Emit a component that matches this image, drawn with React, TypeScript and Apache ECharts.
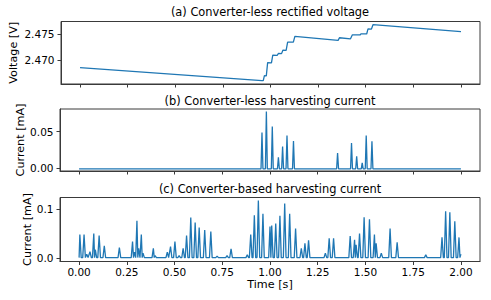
import React, { useEffect, useRef } from "react";
import * as echarts from "echarts";

// ---- data ----
const xTicks = [0, 0.25, 0.5, 0.75, 1.0, 1.25, 1.5, 1.75, 2.0];

const titles = [
  "(a) Converter-less rectified voltage",
  "(b) Converter-less harvesting current",
  "(c) Converter-based harvesting current",
];
const yNames = ["Voltage [V]", "Current [mA]", "Current [mA]"];

// (a) rectified voltage (time [s], voltage [V])
const voltT = [
  0, 0.955, 0.962, 0.968, 0.978, 0.985, 1.005, 1.012, 1.035, 1.042, 1.058, 1.065,
  1.082, 1.09, 1.12, 1.128, 1.355, 1.362, 1.42, 1.43, 1.47, 1.475, 1.505, 1.512,
  1.53, 1.538, 2.0,
];
const voltV = [
  2.46856, 2.46607, 2.46605, 2.467, 2.46698, 2.4695, 2.46947, 2.47094, 2.4709,
  2.47125, 2.47122, 2.47187, 2.47184, 2.47343, 2.4734, 2.4745, 2.47375, 2.47425,
  2.47405, 2.47481, 2.47478, 2.475, 2.47497, 2.47594, 2.4759, 2.47674, 2.47543,
];
const voltTicks = [2.47, 2.475];

// (b) converter-less current spikes (time [s], peak [mA])
const bSpikeT = [0.958, 0.981, 1.012, 1.044, 1.066, 1.089, 1.123, 1.354, 1.427, 1.454, 1.483, 1.504, 1.534];
const bSpikeV = [0.049, 0.0775, 0.057, 0.0153, 0.030, 0.045, 0.0375, 0.021, 0.0347, 0.0165, 0.0077, 0.045, 0.037];
const bBase = -0.0005;
const bTicks = [0, 0.05];

// (c) converter-based current spikes (time [s], peak [mA])
const cSpikeT = [
  0.004, 0.026, 0.04, 0.057, 0.077, 0.085, 0.105, 0.132, 0.211, 0.28, 0.29, 0.303,
  0.312, 0.326, 0.335, 0.389, 0.398, 0.462, 0.479, 0.502, 0.524, 0.545, 0.563,
  0.585, 0.608, 0.629, 0.658, 0.69, 0.723, 0.775, 0.796, 0.881, 0.899, 0.918,
  0.939, 0.963, 1.0, 1.009, 1.03, 1.052, 1.077, 1.103, 1.134, 1.164, 1.183, 1.202,
  1.29, 1.31, 1.333, 1.42, 1.443, 1.451, 1.469, 1.493, 1.521, 1.547, 1.556, 1.583,
  1.629, 1.666, 1.816, 1.901, 1.92, 1.942, 1.968, 1.99, 2.0,
];
const cSpikeV = [
  0.048, 0.048, 0.008, 0.013, 0.05, 0.017, 0.046, 0.025, 0.0215, 0.0335, 0.012,
  0.076, 0.02, 0.048, 0.01, 0.02, 0.005, 0.012, 0.0235, 0.0335, 0.005, 0.02, 0.046,
  0.0825, 0.072, 0.062, 0.057, 0.054, 0.004, 0.005, 0.019, 0.007, 0.048, 0.087,
  0.117, 0.09, 0.064, 0.066, 0.07, 0.086, 0.111, 0.09, 0.06, 0.02, 0.03, 0.036,
  0.01, 0.04, 0.04, 0.045, 0.037, 0.027, 0.05, 0.083, 0.079, 0.048, 0.03, 0.01,
  0.06, 0.032, 0.007, 0.042, 0.095, 0.093, 0.075, 0.042, 0.008,
];
const cBase = 0.001;
const cTicks = [0, 0.1];

const T_START = 0;
const T_END = 2.0;

function buildSpikes(ts: number[], vs: number[], hw: number, base: number) {
  const pts: number[][] = [[T_START, base]];
  for (let i = 0; i < ts.length; i++) {
    const t = ts[i];
    let left = t - hw;
    if (i > 0) left = Math.max(left, (ts[i - 1] + t) / 2);
    let right = t + hw;
    if (i < ts.length - 1) right = Math.min(right, (t + ts[i + 1]) / 2);
    left = Math.max(left, T_START);
    right = Math.min(right, T_END);
    if (left < t) pts.push([left, base]);
    pts.push([t, vs[i]]);
    if (right > t) pts.push([right, base]);
  }
  const last = pts[pts.length - 1];
  if (last[0] < T_END) pts.push([T_END, base]);
  return pts;
}

const FONT = "DejaVu Sans";
const FRAME = "#3a3a3a";
const LINE = "#1f77b4";

export default function App() {
  const ref = useRef<HTMLDivElement>(null);
  useEffect(() => {
    document.body.style.margin = "0";
    if (!ref.current) return;
    const chart = echarts.init(ref.current, undefined, { renderer: "svg" });

    const grids = [
      { left: 60, top: 21.5, width: 420, height: 62.5 },
      { left: 60, top: 109, width: 420, height: 62 },
      { left: 60, top: 197.5, width: 420, height: 64 },
    ];
    const yRanges = [
      { min: 2.46542, max: 2.47735, ticks: voltTicks, fmt: (v: number) => v.toFixed(3), gap: 42 },
      { min: -0.0035, max: 0.081, ticks: bTicks, fmt: (v: number) => v.toFixed(2), gap: 34 },
      { min: -0.0069, max: 0.123, ticks: cTicks, fmt: (v: number) => v.toFixed(1), gap: 27 },
    ];
    const titleTops = [6, 95, 183];

    const voltData = voltT.map((t, i) => [t, voltV[i]]);
    const bData = buildSpikes(bSpikeT, bSpikeV, 0.005, bBase);
    const cData = buildSpikes(cSpikeT, cSpikeV, 0.007, cBase);

    chart.setOption({
      animation: false,
      backgroundColor: "#fff",
      title: titles.map((t, i) => ({
        text: t,
        left: 270,
        top: titleTops[i],
        textAlign: "center",
        padding: 0,
        textStyle: { fontFamily: FONT, fontSize: 11.4, fontWeight: "normal", color: "#000" },
      })),
      grid: grids.map((g) => ({
        ...g,
        show: true,
        borderColor: FRAME,
        borderWidth: 1,
        backgroundColor: "transparent",
        containLabel: false,
      })),
      xAxis: grids.map((_, i) => ({
        gridIndex: i,
        type: "value",
        min: -0.1,
        max: 2.1,
        splitLine: { show: false },
        axisLine: { show: true, onZero: false, lineStyle: { color: FRAME, width: 1 } },
        axisTick: { show: true, customValues: xTicks, length: 3.5, lineStyle: { color: FRAME, width: 1 } },
        axisLabel: {
          show: i === 2,
          customValues: xTicks,
          formatter: (v: number) => v.toFixed(2),
          margin: 5,
          fontFamily: FONT,
          fontSize: 10.5,
          color: "#000",
        },
        name: i === 2 ? "Time [s]" : "",
        nameLocation: "middle",
        nameGap: 17,
        nameMoveOverlap: false,
        nameTextStyle: { fontFamily: FONT, fontSize: 11.2, color: "#000", verticalAlign: "top" },
      })),
      yAxis: yRanges.map((r, i) => ({
        gridIndex: i,
        type: "value",
        min: r.min,
        max: r.max,
        splitLine: { show: false },
        axisLine: { show: true, onZero: false, lineStyle: { color: FRAME, width: 1 } },
        axisTick: { show: true, customValues: r.ticks, length: 3.5, lineStyle: { color: FRAME, width: 1 } },
        axisLabel: {
          show: true,
          customValues: r.ticks,
          formatter: r.fmt,
          margin: 6.5,
          fontFamily: FONT,
          fontSize: 10.5,
          color: "#000",
        },
        name: yNames[i],
        nameLocation: "middle",
        nameRotate: 90,
        nameGap: r.gap,
        nameMoveOverlap: false,
        nameTextStyle: { fontFamily: FONT, fontSize: 11.2, color: "#000" },
      })),
      series: [voltData, bData, cData].map((d, i) => ({
        type: "line",
        xAxisIndex: i,
        yAxisIndex: i,
        data: d,
        showSymbol: false,
        symbol: "none",
        lineStyle: { color: LINE, width: 1.3 },
        z: 3,
      })),
    });
    return () => chart.dispose();
  }, []);
  return <div ref={ref} style={{ width: 491, height: 300 }} />;
}
